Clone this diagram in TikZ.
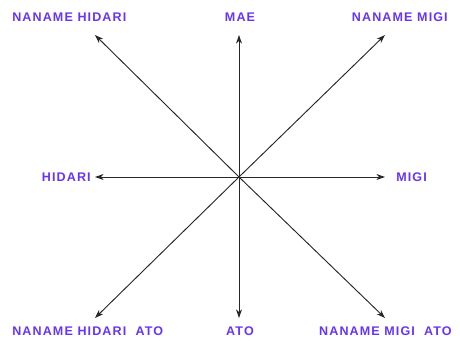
\documentclass[tikz,border=0pt]{standalone}
\usepackage{fontspec}
\setmainfont{Liberation Sans}[LetterSpace=9]
\usetikzlibrary{arrows.meta}
\definecolor{lbl}{HTML}{6633FF}
\begin{document}
\begin{tikzpicture}[x=0.75pt,y=-0.75pt,
  lab/.style={text=lbl,font=\fontsize{9.4}{11}\selectfont\bfseries,inner sep=0pt},
  dir/.style={draw=black!85,line width=0.7pt,-{Stealth[length=6.5pt,width=4.5pt]}}]
\useasboundingbox (0,0) rectangle (460,341);
\coordinate (c) at (239,177);
\coordinate (n) at (239,35);
\coordinate (nw) at (95,35);
\coordinate (ne) at (385,35);
\coordinate (w) at (95,177);
\coordinate (e) at (385,177);
\coordinate (s) at (239,318);
\coordinate (sw) at (95,318);
\coordinate (se) at (385,318);
\foreach \t in {n,nw,ne,w,e,s,sw,se} \draw[dir] (c) -- (\t);
\node[lab,anchor=west] (lnw) at (12,17) {NANAME HIDARI};
\node[lab] (ln) at (240,17) {MAE};
\node[lab,anchor=east] (lne) at (448,17) {NANAME MIGI};
\node[lab,anchor=east] (lw) at (91,177) {HIDARI};
\node[lab,anchor=west] (le) at (396,177) {MIGI};
\node[lab,anchor=west] (lsw) at (12,331) {NANAME HIDARI\ \ ATO};
\node[lab] (ls) at (240,331) {ATO};
\node[lab,anchor=east] (lse) at (452,331) {NANAME MIGI\ \ ATO};
\end{tikzpicture}
\end{document}
